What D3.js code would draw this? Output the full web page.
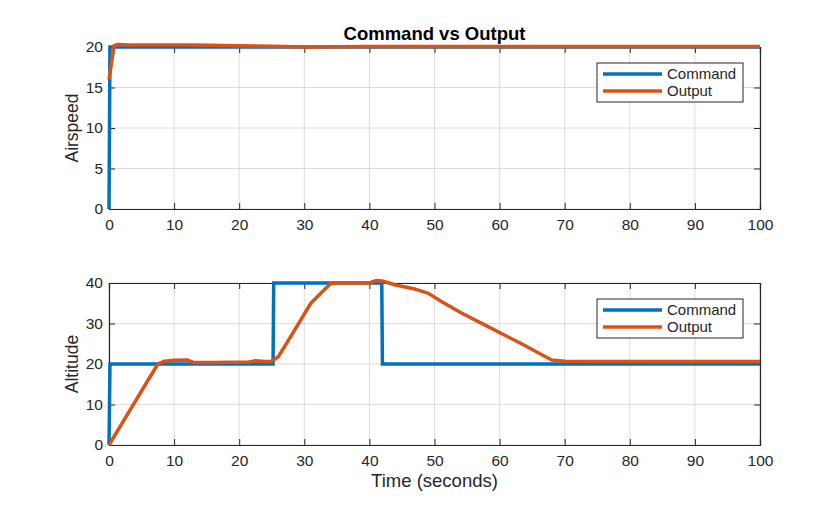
<!DOCTYPE html>
<html><head><meta charset="utf-8">
<script src="https://cdn.jsdelivr.net/npm/d3@7"></script>
<style>body{margin:0;background:#fff;} text{font-family:"Liberation Sans",Arial,sans-serif;}</style>
</head><body>
<svg id="c" width="840" height="506"></svg>
<script>
const xTicks = [0,10,20,30,40,50,60,70,80,90,100];
const airTicks = [0,5,10,15,20];
const altTicks = [0,10,20,30,40];
const seriesNames = ["Command","Output"];
const colors = ["#0072BD","#D95319"];

const airCmdT = [0,0.15,100];
const airCmdV = [0,20,20];
const airOutT = [0,0.8,1.5,3,8,13,20,25,30,40,60,100];
const airOutV = [16,20.2,20.3,20.25,20.25,20.25,20.15,20.1,20.0,20.05,20.05,20.05];

const altCmdT = [0,0.15,25.2,25.3,41.9,42,100];
const altCmdV = [0,20,20,40,40,20,20];
const altOutT = [0,7.5,8.5,10,12,13,16,21.5,22.5,24,25,26,28,31,32,34,35,40,41,42,44,47,49,51,54,58,63,68,70,100];
const altOutV = [0,20,20.7,20.9,21,20.4,20.4,20.5,20.8,20.6,20.7,21.8,27,35,36.6,39.8,40,40,40.6,40.5,39.5,38.5,37.5,35.5,32.7,29.4,25.3,21,20.7,20.6];

const svg = d3.select("#c");
const L = 109, R = 760;
const x = d3.scaleLinear().domain([0,100]).range([L,R]);

function panel(top, bottom, yMax, yTicks, ylabel, cmdT, cmdV, outT, outV, xlabel){
  const y = d3.scaleLinear().domain([0,yMax]).range([bottom,top]);
  const g = svg.append("g");
  g.selectAll(".gx").data(xTicks).enter().append("line")
    .attr("x1",d=>x(d)).attr("x2",d=>x(d)).attr("y1",top).attr("y2",bottom)
    .attr("stroke","#dcdcdc").attr("stroke-width",1);
  g.selectAll(".gy").data(yTicks).enter().append("line")
    .attr("x1",L).attr("x2",R).attr("y1",d=>y(d)).attr("y2",d=>y(d))
    .attr("stroke","#dcdcdc").attr("stroke-width",1);
  const xa = g.append("g").attr("transform",`translate(0,${bottom})`)
    .call(d3.axisBottom(x).tickValues(xTicks).tickSize(-6).tickPadding(10));
  const xt = g.append("g").attr("transform",`translate(0,${top})`)
    .call(d3.axisTop(x).tickValues(xTicks).tickSize(-6).tickFormat(""));
  const ya = g.append("g").attr("transform",`translate(${L},0)`)
    .call(d3.axisLeft(y).tickValues(yTicks).tickSize(-6).tickPadding(6));
  const yr = g.append("g").attr("transform",`translate(${R},0)`)
    .call(d3.axisRight(y).tickValues(yTicks).tickSize(-6).tickFormat(""));
  [xa,xt,ya,yr].forEach(a=>{
    a.selectAll("path").attr("stroke","#262626").attr("stroke-width",1.2);
    a.selectAll("line").attr("stroke","#262626");
    a.selectAll("text").attr("fill","#262626").style("font-size","15.5px");
  });
  const line = d3.line().x(d=>x(d[0])).y(d=>y(d[1]));
  const cmd = cmdT.map((t,i)=>[t,cmdV[i]]);
  const out = outT.map((t,i)=>[t,outV[i]]);
  g.append("path").attr("d",line(cmd)).attr("fill","none").attr("stroke",colors[0]).attr("stroke-width",3.5);
  g.append("path").attr("d",line(out)).attr("fill","none").attr("stroke",colors[1]).attr("stroke-width",3.5).attr("stroke-linejoin","round");
  g.append("text").attr("transform",`translate(78,${(top+bottom)/2}) rotate(-90)`)
    .attr("text-anchor","middle").style("font-size","17.5px").attr("fill","#262626").text(ylabel);
  const lg = g.append("g").attr("transform",`translate(597,${top+16})`);
  lg.append("rect").attr("width",146).attr("height",39).attr("fill","#fff").attr("stroke","#262626").attr("stroke-width",1);
  seriesNames.forEach((n,i)=>{
    lg.append("line").attr("x1",6).attr("x2",65).attr("y1",11+i*17).attr("y2",11+i*17)
      .attr("stroke",colors[i]).attr("stroke-width",3.5);
    lg.append("text").attr("x",70).attr("y",11+i*17).attr("dy","0.35em")
      .style("font-size","15px").attr("fill","#262626").text(n);
  });
  if(xlabel){
    g.append("text").attr("x",(L+R)/2).attr("y",bottom+42).attr("text-anchor","middle")
      .style("font-size","18.5px").attr("fill","#262626").text(xlabel);
  }
}

panel(47,209,20,airTicks,"Airspeed",airCmdT,airCmdV,airOutT,airOutV,null);
panel(283,445,40,altTicks,"Altitude",altCmdT,altCmdV,altOutT,altOutV,"Time (seconds)");

svg.append("text").attr("x",(L+R)/2).attr("y",40).attr("text-anchor","middle")
  .style("font-size","18.5px").style("font-weight","bold").attr("fill","#000").text("Command vs Output");
</script>
</body></html>
